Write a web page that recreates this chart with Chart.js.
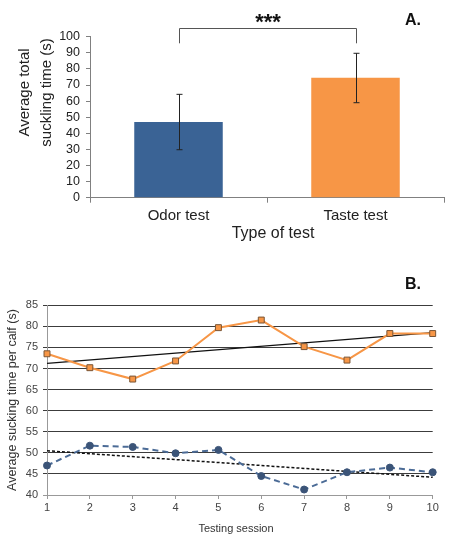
<!DOCTYPE html>
<html><head><meta charset="utf-8">
<script src="https://cdn.jsdelivr.net/npm/chart.js@4"></script>
<style>
html,body{margin:0;padding:0;background:#fff;width:450px;height:555px;overflow:hidden}
#wa{position:absolute;left:0;top:0;width:450px;height:250px}
#wb{position:absolute;left:0;top:250px;width:450px;height:305px}
</style></head><body>
<div id="wa"><canvas id="ca"></canvas></div>
<div id="wb"><canvas id="cb"></canvas></div>
<script>
// ---- Panel A data ----
const testTypes = ['Odor test', 'Taste test'];
const meanSuckling = [47, 74.5];
const errLow = [29.8, 59];
const errHigh = [64.2, 89.7];
const barColors = ['#3a6395', '#f79646'];

// ---- Panel B data ----
const sessions = ['1','2','3','4','5','6','7','8','9','10'];
const tasteSession = [73.5, 70.2, 67.5, 71.8, 79.7, 81.5, 75.2, 72.0, 78.3, 78.3];
const odorSession  = [47.0, 51.7, 51.4, 49.9, 50.7, 44.5, 41.3, 45.4, 46.5, 45.4];
const tasteTrendEnds = [71.2, 78.5];
const odorTrendEnds  = [50.5, 44.2];

const FONT = "'Liberation Sans', Arial, sans-serif";
Chart.defaults.font.family = FONT;

function endsToSeries(ends) {
  return sessions.map((s, i) => i === 0 ? ends[0] : (i === sessions.length - 1 ? ends[1] : null));
}

const pluginA = {
  id: 'panelA',
  afterDatasetsDraw(chart) {
    const ctx = chart.ctx, x = chart.scales.x, y = chart.scales.y;
    ctx.save();
    ctx.strokeStyle = '#222';
    ctx.lineWidth = 1;
    meanSuckling.forEach((v, i) => {
      const px = Math.round(x.getPixelForValue(i)) + 0.5;
      const yl = y.getPixelForValue(errLow[i]);
      const yh = y.getPixelForValue(errHigh[i]);
      ctx.beginPath();
      ctx.moveTo(px, yl); ctx.lineTo(px, yh);
      ctx.moveTo(px - 3, yl); ctx.lineTo(px + 3, yl);
      ctx.moveTo(px - 3, yh); ctx.lineTo(px + 3, yh);
      ctx.stroke();
    });
    ctx.restore();
  },
  afterDraw(chart) {
    const ctx = chart.ctx, x = chart.scales.x, y = chart.scales.y;
    ctx.save();
    const x0 = Math.round(x.getPixelForValue(0)) + 0.5;
    const x1 = Math.round(x.getPixelForValue(1)) + 0.5;
    const yt = Math.round(y.getPixelForValue(105.2)) + 0.5;
    const yb = y.getPixelForValue(95.9);
    ctx.strokeStyle = '#555';
    ctx.lineWidth = 1;
    ctx.beginPath();
    ctx.moveTo(x0, yb); ctx.lineTo(x0, yt); ctx.lineTo(x1, yt); ctx.lineTo(x1, yb);
    ctx.stroke();
    ctx.fillStyle = '#111';
    ctx.textAlign = 'center';
    ctx.textBaseline = 'alphabetic';
    ctx.font = 'bold 22px ' + FONT;
    ctx.fillText('***', (x0 + x1) / 2, 29);
    ctx.font = 'bold 16px ' + FONT;
    ctx.fillText('A.', 413, 25);
    ctx.fillStyle = '#222';
    ctx.font = '16px ' + FONT;
    ctx.fillText('Type of test', 273, 238);
    ctx.translate(0, 92.5);
    ctx.rotate(-Math.PI / 2);
    ctx.font = '15px ' + FONT;
    ctx.textBaseline = 'middle';
    ctx.fillText('Average total', 0, 25);
    ctx.fillText('suckling time (s)', 0, 46.5);
    ctx.restore();
  }
};

new Chart(document.getElementById('ca'), {
  type: 'bar',
  data: {
    labels: testTypes,
    datasets: [{
      data: meanSuckling,
      backgroundColor: barColors,
      borderWidth: 0,
      barPercentage: 0.5,
      categoryPercentage: 1
    }]
  },
  options: {
    responsive: true, maintainAspectRatio: false, animation: false,
    layout: { padding: { left: 0, right: 6, top: 36.7, bottom: 0 } },
    plugins: { legend: { display: false }, tooltip: { enabled: false } },
    scales: {
      x: {
        grid: { drawOnChartArea: false, drawTicks: true, tickLength: 5, color: '#808080', offset: true },
        border: { color: '#808080' },
        ticks: { font: { size: 15 }, color: '#222', padding: 4 },
        afterFit(s) { s.height = 52.3; }
      },
      y: {
        min: 0, max: 100,
        ticks: { stepSize: 10, autoSkip: false, font: { size: 12.5 }, color: '#222', padding: 6 },
        grid: { drawOnChartArea: false, tickLength: 4, color: '#808080' },
        border: { color: '#808080' },
        afterFit(s) { s.width = 90; }
      }
    }
  },
  plugins: [pluginA]
});

const pluginB = {
  id: 'panelB',
  afterDraw(chart) {
    const ctx = chart.ctx;
    ctx.save();
    ctx.fillStyle = '#111';
    ctx.textAlign = 'center';
    ctx.textBaseline = 'alphabetic';
    ctx.font = 'bold 16px ' + FONT;
    ctx.fillText('B.', 413, 39);
    ctx.fillStyle = '#333';
    ctx.font = '11px ' + FONT;
    ctx.fillText('Testing session', 236, 281.5);
    ctx.translate(12.5, 150);
    ctx.rotate(-Math.PI / 2);
    ctx.font = '12.5px ' + FONT;
    ctx.textBaseline = 'middle';
    ctx.fillText('Average sucking time per calf (s)', 0, 0);
    ctx.restore();
  }
};

new Chart(document.getElementById('cb'), {
  type: 'line',
  data: {
    labels: sessions,
    datasets: [
      {
        data: odorSession,
        borderColor: '#4b6b96', borderWidth: 2, borderDash: [6, 4],
        pointStyle: 'circle', pointRadius: 3.5,
        pointBackgroundColor: '#3b5478', pointBorderColor: '#3b5478', pointBorderWidth: 1,
        fill: false, tension: 0
      },
      {
        data: tasteSession,
        borderColor: '#f79646', borderWidth: 2,
        pointStyle: 'rect', pointRadius: 4.2,
        pointBackgroundColor: '#f79646', pointBorderColor: '#7a5535', pointBorderWidth: 1,
        fill: false, tension: 0
      },
      {
        data: endsToSeries(odorTrendEnds),
        borderColor: '#111', borderWidth: 1.5, borderDash: [3, 2],
        pointRadius: 0, spanGaps: true, fill: false
      },
      {
        data: endsToSeries(tasteTrendEnds),
        borderColor: '#111', borderWidth: 1.3,
        pointRadius: 0, spanGaps: true, fill: false
      }
    ]
  },
  options: {
    responsive: true, maintainAspectRatio: false, animation: false,
    layout: { padding: { left: 0, right: 17.3, top: 55.3, bottom: 0 } },
    plugins: { legend: { display: false }, tooltip: { enabled: false } },
    scales: {
      x: {
        offset: false,
        grid: { drawOnChartArea: false, tickLength: 4, color: '#999', offset: false },
        border: { color: '#999' },
        ticks: { font: { size: 11 }, color: '#444', padding: 2, autoSkip: false, maxRotation: 0 },
        afterFit(s) { s.height = 60; }
      },
      y: {
        min: 40, max: 85,
        ticks: { stepSize: 5, autoSkip: false, font: { size: 11 }, color: '#444', padding: 5 },
        grid: { tickLength: 4, color: (c) => (c.tick && c.tick.value === 40) ? '#999' : '#3c3c3c' },
        border: { color: '#999' },
        afterFit(s) { s.width = 47; }
      }
    }
  },
  plugins: [pluginB]
});
</script>
</body></html>
